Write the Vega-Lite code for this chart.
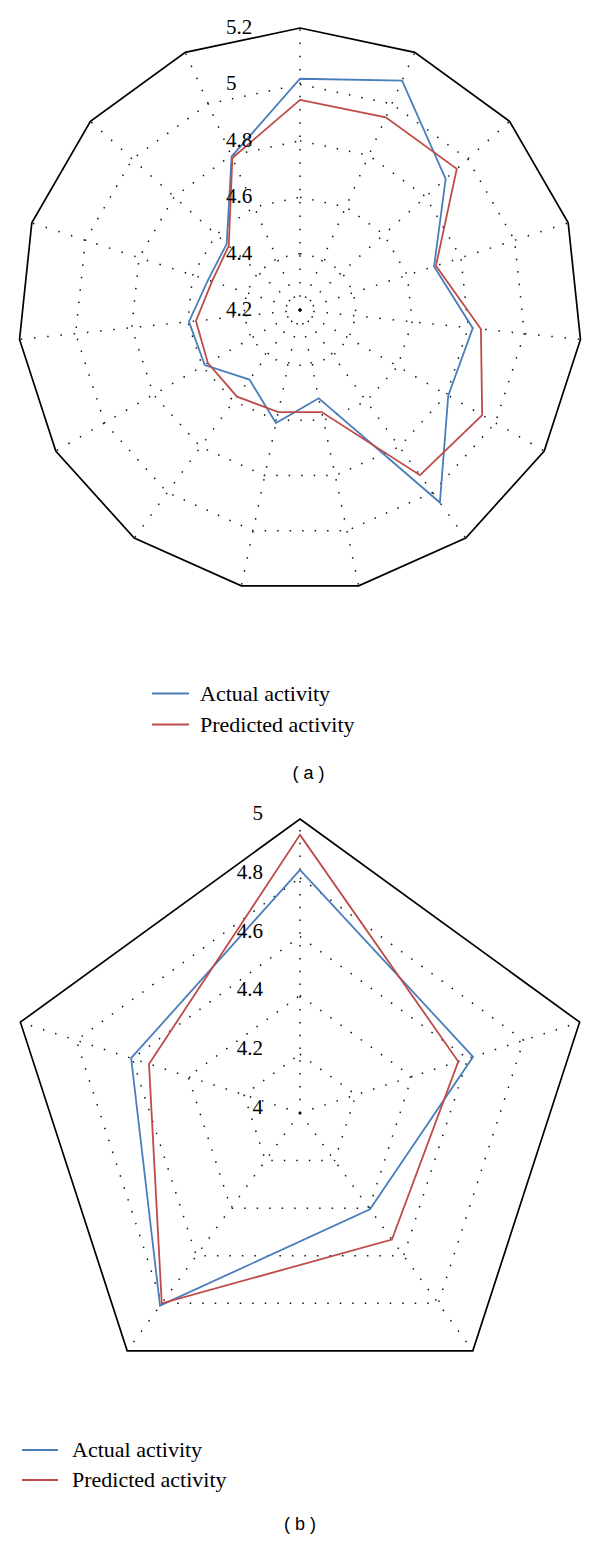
{
  "$schema": "https://vega.github.io/schema/vega-lite/v6.json",
  "padding": 0,
  "spacing": 0,
  "background": "white",
  "config": {"view": {"stroke": null}},
  "datasets": {
    "gridA": [
      {"k": 0, "levels": [4.4, 4.6, 4.8, 5.0, 5.2]}, {"k": 1, "levels": [4.4, 4.6, 4.8, 5.0, 5.2]},
      {"k": 2, "levels": [4.4, 4.6, 4.8, 5.0, 5.2]}, {"k": 3, "levels": [4.4, 4.6, 4.8, 5.0, 5.2]},
      {"k": 4, "levels": [4.4, 4.6, 4.8, 5.0, 5.2]}, {"k": 5, "levels": [4.4, 4.6, 4.8, 5.0, 5.2]},
      {"k": 6, "levels": [4.4, 4.6, 4.8, 5.0, 5.2]}, {"k": 7, "levels": [4.4, 4.6, 4.8, 5.0, 5.2]},
      {"k": 8, "levels": [4.4, 4.6, 4.8, 5.0, 5.2]}, {"k": 9, "levels": [4.4, 4.6, 4.8, 5.0, 5.2]},
      {"k": 10, "levels": [4.4, 4.6, 4.8, 5.0, 5.2]}, {"k": 11, "levels": [4.4, 4.6, 4.8, 5.0, 5.2]},
      {"k": 12, "levels": [4.4, 4.6, 4.8, 5.0, 5.2]}, {"k": 13, "levels": [4.4, 4.6, 4.8, 5.0, 5.2]},
      {"k": 14, "levels": [4.4, 4.6, 4.8, 5.0, 5.2]}
    ],
    "gridB": [
      {"k": 0, "levels": [4.2, 4.4, 4.6, 4.8, 5.0]}, {"k": 1, "levels": [4.2, 4.4, 4.6, 4.8, 5.0]},
      {"k": 2, "levels": [4.2, 4.4, 4.6, 4.8, 5.0]}, {"k": 3, "levels": [4.2, 4.4, 4.6, 4.8, 5.0]},
      {"k": 4, "levels": [4.2, 4.4, 4.6, 4.8, 5.0]}
    ],
    "seriesA": [
      {"series": "Actual activity", "k": 0, "value": 5.02},
      {"series": "Actual activity", "k": 1, "value": 5.09},
      {"series": "Actual activity", "k": 2, "value": 4.895},
      {"series": "Actual activity", "k": 3, "value": 4.70},
      {"series": "Actual activity", "k": 4, "value": 4.816},
      {"series": "Actual activity", "k": 5, "value": 4.807},
      {"series": "Actual activity", "k": 6, "value": 5.044},
      {"series": "Actual activity", "k": 7, "value": 4.52},
      {"series": "Actual activity", "k": 8, "value": 4.61},
      {"series": "Actual activity", "k": 9, "value": 4.505},
      {"series": "Actual activity", "k": 10, "value": 4.59},
      {"series": "Actual activity", "k": 11, "value": 4.596},
      {"series": "Actual activity", "k": 12, "value": 4.543},
      {"series": "Actual activity", "k": 13, "value": 4.55},
      {"series": "Actual activity", "k": 14, "value": 4.796},
      {"series": "Predicted activity", "k": 0, "value": 4.945},
      {"series": "Predicted activity", "k": 1, "value": 4.948},
      {"series": "Predicted activity", "k": 2, "value": 4.948},
      {"series": "Predicted activity", "k": 3, "value": 4.707},
      {"series": "Predicted activity", "k": 4, "value": 4.845},
      {"series": "Predicted activity", "k": 5, "value": 4.946},
      {"series": "Predicted activity", "k": 6, "value": 4.924},
      {"series": "Predicted activity", "k": 7, "value": 4.57},
      {"series": "Predicted activity", "k": 8, "value": 4.57},
      {"series": "Predicted activity", "k": 9, "value": 4.58},
      {"series": "Predicted activity", "k": 10, "value": 4.577},
      {"series": "Predicted activity", "k": 11, "value": 4.571},
      {"series": "Predicted activity", "k": 12, "value": 4.528},
      {"series": "Predicted activity", "k": 13, "value": 4.54},
      {"series": "Predicted activity", "k": 14, "value": 4.79}
    ],
    "seriesB": [
      {"series": "Actual activity", "k": 0, "value": 4.827},
      {"series": "Actual activity", "k": 1, "value": 4.619},
      {"series": "Actual activity", "k": 2, "value": 4.405},
      {"series": "Actual activity", "k": 3, "value": 4.81},
      {"series": "Actual activity", "k": 4, "value": 4.604},
      {"series": "Predicted activity", "k": 0, "value": 4.946},
      {"series": "Predicted activity", "k": 1, "value": 4.566},
      {"series": "Predicted activity", "k": 2, "value": 4.532},
      {"series": "Predicted activity", "k": 3, "value": 4.80},
      {"series": "Predicted activity", "k": 4, "value": 4.54}
    ],
    "ticksA": [
      {"label": "4.2", "v": 4.2}, {"label": "4.4", "v": 4.4}, {"label": "4.6", "v": 4.6},
      {"label": "4.8", "v": 4.8}, {"label": "5", "v": 5.0}, {"label": "5.2", "v": 5.2}
    ],
    "ticksB": [
      {"label": "4", "v": 4.0}, {"label": "4.2", "v": 4.2}, {"label": "4.4", "v": 4.4},
      {"label": "4.6", "v": 4.6}, {"label": "4.8", "v": 4.8}, {"label": "5", "v": 5.0}
    ],
    "capA": [{"caption": "( a )", "cx": 0.03, "cy": -1.645}],
    "capB": [{"caption": "( b )", "cx": 0, "cy": -1.4014}]
  },
  "resolve": {
    "scale": {"x": "independent", "y": "independent", "color": "independent"},
    "legend": {"color": "independent"}
  },
  "vconcat": [
    {
      "width": 600,
      "height": 790,
      "layer": [
        {
          "data": {"name": "gridA"},
          "transform": [
            {"calculate": "datum.k * 2 * PI / 15", "as": "t"},
            {"calculate": "0", "as": "x"},
            {"calculate": "0", "as": "y"},
            {"calculate": "sin(datum.t)", "as": "ox"},
            {"calculate": "cos(datum.t)", "as": "oy"}
          ],
          "mark": {"type": "rule", "color": "#111111", "strokeWidth": 1.5, "strokeDash": [1.5, 11.8]},
          "encoding": {
            "x": {"field": "x", "type": "quantitative", "scale": {"domain": [-1.06383, 1.06383], "nice": false, "zero": false}, "axis": null},
            "y": {"field": "y", "type": "quantitative", "scale": {"domain": [-1.70213, 1.09929], "nice": false, "zero": false}, "axis": null},
            "x2": {"field": "ox"},
            "y2": {"field": "oy"}
          }
        },
        {
          "data": {"name": "gridA"},
          "transform": [
            {"flatten": ["levels"], "as": ["level"]},
            {"filter": "datum.level < 5.19"},
            {"calculate": "datum.k * 2 * PI / 15", "as": "t"},
            {"calculate": "(datum.level - 4.2) * sin(datum.t)", "as": "x"},
            {"calculate": "(datum.level - 4.2) * cos(datum.t)", "as": "y"}
          ],
          "mark": {"type": "line", "interpolate": "linear-closed", "color": "#111111", "strokeWidth": 1.5, "strokeDash": [1.5, 11]},
          "encoding": {
            "x": {"field": "x", "type": "quantitative", "axis": null},
            "y": {"field": "y", "type": "quantitative", "axis": null},
            "detail": {"field": "level", "type": "nominal"},
            "order": {"field": "k", "type": "quantitative"}
          }
        },
        {
          "data": {"name": "gridA"},
          "transform": [
            {"flatten": ["levels"], "as": ["level"]},
            {"filter": "datum.level > 5.19"},
            {"calculate": "datum.k * 2 * PI / 15", "as": "t"},
            {"calculate": "(datum.level - 4.2) * sin(datum.t)", "as": "x"},
            {"calculate": "(datum.level - 4.2) * cos(datum.t)", "as": "y"}
          ],
          "mark": {"type": "line", "interpolate": "linear-closed", "color": "#000000", "strokeWidth": 1.7},
          "encoding": {
            "x": {"field": "x", "type": "quantitative", "axis": null},
            "y": {"field": "y", "type": "quantitative", "axis": null},
            "order": {"field": "k", "type": "quantitative"}
          }
        },
        {
          "data": {"name": "seriesA"},
          "transform": [
            {"calculate": "datum.k * 2 * PI / 15", "as": "t"},
            {"calculate": "(datum.value - 4.2) * sin(datum.t)", "as": "x"},
            {"calculate": "(datum.value - 4.2) * cos(datum.t)", "as": "y"}
          ],
          "mark": {"type": "line", "interpolate": "linear-closed", "strokeWidth": 1.8},
          "encoding": {
            "x": {"field": "x", "type": "quantitative", "axis": null},
            "y": {"field": "y", "type": "quantitative", "axis": null},
            "order": {"field": "k", "type": "quantitative"},
            "color": {
              "field": "series",
              "type": "nominal",
              "scale": {"domain": ["Actual activity", "Predicted activity"], "range": ["#4A7EBB", "#BE4B48"]},
              "legend": {
                "title": null, "orient": "none", "legendX": 151, "legendY": 674,
                "symbolType": "stroke", "symbolSize": 1369, "symbolStrokeWidth": 1.8,
                "labelFont": "Liberation Serif", "labelFontSize": 22, "labelColor": "#000000",
                "labelOffset": 10, "rowPadding": -1, "padding": 0, "labelLimit": 0
              }
            }
          }
        },
        {
          "data": {"name": "ticksA"},
          "transform": [{"calculate": "datum.v - 4.2", "as": "y"}, {"calculate": "0", "as": "x"}],
          "mark": {"type": "text", "align": "left", "baseline": "middle", "dx": -74, "font": "Liberation Serif", "fontSize": 21, "color": "#000000"},
          "encoding": {
            "x": {"field": "x", "type": "quantitative", "axis": null},
            "y": {"field": "y", "type": "quantitative", "axis": null},
            "text": {"field": "label", "type": "nominal"}
          }
        },
        {
          "data": {"name": "capA"},
          "mark": {"type": "text", "align": "center", "baseline": "middle", "font": "Liberation Sans", "fontSize": 18, "color": "#000000"},
          "encoding": {
            "x": {"field": "cx", "type": "quantitative", "axis": null},
            "y": {"field": "cy", "type": "quantitative", "axis": null},
            "text": {"field": "caption", "type": "nominal"}
          }
        }
      ]
    },
    {
      "width": 600,
      "height": 751,
      "layer": [
        {
          "data": {"name": "gridB"},
          "transform": [
            {"calculate": "datum.k * 2 * PI / 5", "as": "t"},
            {"calculate": "0", "as": "x"},
            {"calculate": "0", "as": "y"},
            {"calculate": "sin(datum.t)", "as": "ox"},
            {"calculate": "cos(datum.t)", "as": "oy"}
          ],
          "mark": {"type": "rule", "color": "#111111", "strokeWidth": 1.5, "strokeDash": [1.5, 11.3]},
          "encoding": {
            "x": {"field": "x", "type": "quantitative", "scale": {"domain": [-1.02041, 1.02041], "nice": false, "zero": false}, "axis": null},
            "y": {"field": "y", "type": "quantitative", "scale": {"domain": [-1.45578, 1.09864], "nice": false, "zero": false}, "axis": null},
            "x2": {"field": "ox"},
            "y2": {"field": "oy"}
          }
        },
        {
          "data": {"name": "gridB"},
          "transform": [
            {"flatten": ["levels"], "as": ["level"]},
            {"filter": "datum.level < 4.99"},
            {"calculate": "datum.k * 2 * PI / 5", "as": "t"},
            {"calculate": "(datum.level - 4.0) * sin(datum.t)", "as": "x"},
            {"calculate": "(datum.level - 4.0) * cos(datum.t)", "as": "y"}
          ],
          "mark": {"type": "line", "interpolate": "linear-closed", "color": "#111111", "strokeWidth": 1.5, "strokeDash": [1.5, 11]},
          "encoding": {
            "x": {"field": "x", "type": "quantitative", "axis": null},
            "y": {"field": "y", "type": "quantitative", "axis": null},
            "detail": {"field": "level", "type": "nominal"},
            "order": {"field": "k", "type": "quantitative"}
          }
        },
        {
          "data": {"name": "gridB"},
          "transform": [
            {"flatten": ["levels"], "as": ["level"]},
            {"filter": "datum.level > 4.99"},
            {"calculate": "datum.k * 2 * PI / 5", "as": "t"},
            {"calculate": "(datum.level - 4.0) * sin(datum.t)", "as": "x"},
            {"calculate": "(datum.level - 4.0) * cos(datum.t)", "as": "y"}
          ],
          "mark": {"type": "line", "interpolate": "linear-closed", "color": "#000000", "strokeWidth": 1.7},
          "encoding": {
            "x": {"field": "x", "type": "quantitative", "axis": null},
            "y": {"field": "y", "type": "quantitative", "axis": null},
            "order": {"field": "k", "type": "quantitative"}
          }
        },
        {
          "data": {"name": "seriesB"},
          "transform": [
            {"calculate": "datum.k * 2 * PI / 5", "as": "t"},
            {"calculate": "(datum.value - 4.0) * sin(datum.t)", "as": "x"},
            {"calculate": "(datum.value - 4.0) * cos(datum.t)", "as": "y"}
          ],
          "mark": {"type": "line", "interpolate": "linear-closed", "strokeWidth": 1.8},
          "encoding": {
            "x": {"field": "x", "type": "quantitative", "axis": null},
            "y": {"field": "y", "type": "quantitative", "axis": null},
            "order": {"field": "k", "type": "quantitative"},
            "color": {
              "field": "series",
              "type": "nominal",
              "scale": {"domain": ["Actual activity", "Predicted activity"], "range": ["#4A7EBB", "#BE4B48"]},
              "legend": {
                "title": null, "orient": "none", "legendX": 21, "legendY": 641,
                "symbolType": "stroke", "symbolSize": 1296, "symbolStrokeWidth": 1.8,
                "labelFont": "Liberation Serif", "labelFontSize": 22, "labelColor": "#000000",
                "labelOffset": 13, "rowPadding": 0, "padding": 0, "labelLimit": 0
              }
            }
          }
        },
        {
          "data": {"name": "ticksB"},
          "transform": [{"calculate": "datum.v - 4.0", "as": "y"}, {"calculate": "0", "as": "x"}],
          "mark": {"type": "text", "align": "right", "baseline": "middle", "dx": -37, "dy": -5, "font": "Liberation Serif", "fontSize": 21, "color": "#000000"},
          "encoding": {
            "x": {"field": "x", "type": "quantitative", "axis": null},
            "y": {"field": "y", "type": "quantitative", "axis": null},
            "text": {"field": "label", "type": "nominal"}
          }
        },
        {
          "data": {"name": "capB"},
          "mark": {"type": "text", "align": "center", "baseline": "middle", "font": "Liberation Sans", "fontSize": 18, "color": "#000000"},
          "encoding": {
            "x": {"field": "cx", "type": "quantitative", "axis": null},
            "y": {"field": "cy", "type": "quantitative", "axis": null},
            "text": {"field": "caption", "type": "nominal"}
          }
        }
      ]
    }
  ]
}
